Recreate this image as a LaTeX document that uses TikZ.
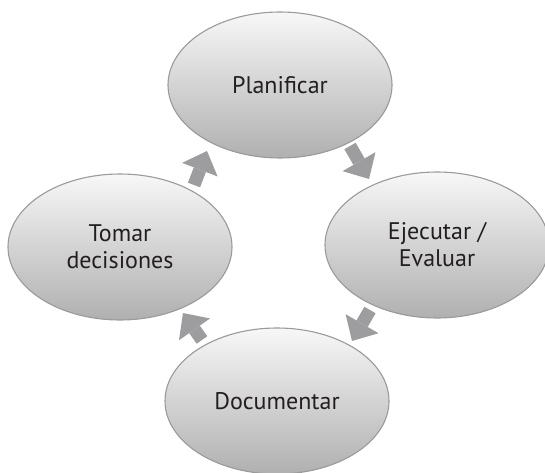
\documentclass[tikz,border=0pt]{standalone}
\usepackage{fontspec}
\setmainfont{PT Sans}
\usetikzlibrary{shapes.geometric,arrows.meta}
\definecolor{edgegray}{HTML}{9A9A9A}
\definecolor{toplight}{HTML}{F7F7F7}
\definecolor{botdark}{HTML}{B0B0B1}
\definecolor{arrowgray}{HTML}{9D9D9F}
\definecolor{txt}{HTML}{231F20}
\tikzset{
  stage/.style={ellipse, draw=edgegray, line width=1.1pt, top color=toplight, bottom color=botdark,
    minimum width=224pt, minimum height=146pt, inner sep=0pt, align=center,
    text=txt, font=\fontsize{24}{27}\selectfont},
  flow/.style={draw=arrowgray, line width=13pt,
    -{Triangle[width=38pt,length=20pt,line width=0pt,fill=arrowgray]}}
}
\begin{document}
\begin{tikzpicture}[x=1pt,y=1pt]
\useasboundingbox (0,0) rectangle (545,472);
\node[stage] (P) at (280,387) {Planificar};
\node[stage] (E) at (437,227) {Ejecutar /\\Evaluar};
\node[stage] (T) at (120,225) {Tomar\\decisiones};
\node[stage] (D) at (277,71) {Documentar};
\coordinate (a1s) at (350,326);
\coordinate (a1e) at (369,293);
\coordinate (a2s) at (370,162);
\coordinate (a2e) at (352,131);
\coordinate (a3s) at (202,132);
\coordinate (a3e) at (183,159);
\coordinate (a4s) at (194,287);
\coordinate (a4e) at (207,321);
\draw[flow] (a1s) -- (a1e);
\draw[flow] (a2s) -- (a2e);
\draw[flow] (a3s) -- (a3e);
\draw[flow] (a4s) -- (a4e);
\end{tikzpicture}
\end{document}
